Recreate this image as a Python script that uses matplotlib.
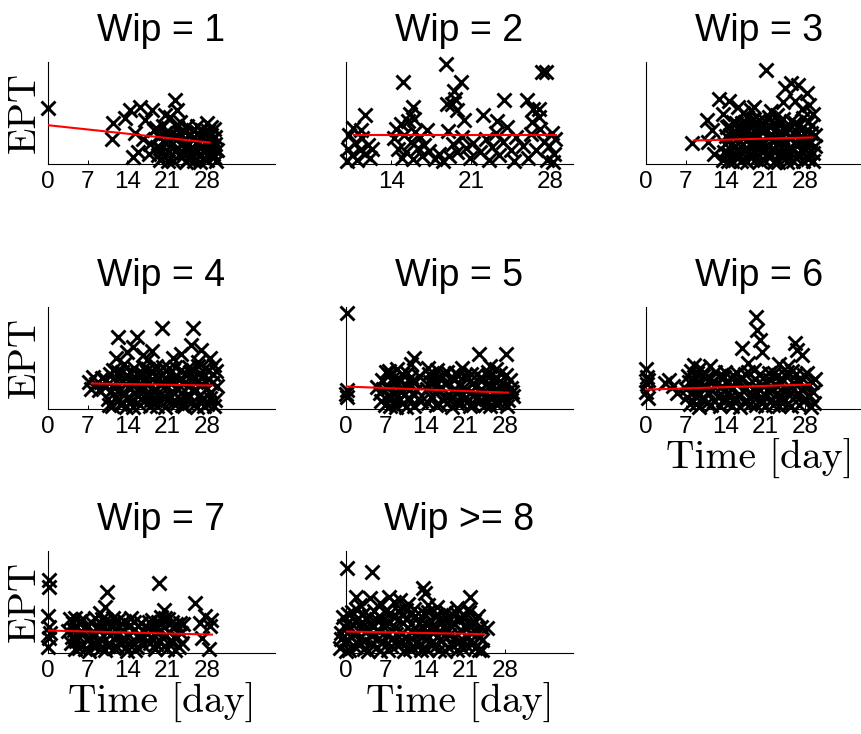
import matplotlib
matplotlib.use("Agg")
import matplotlib.pyplot as plt


TITLES = [
    "Wip = 1", "Wip = 2", "Wip = 3", "Wip = 4",
    "Wip = 5", "Wip = 6", "Wip = 7", "Wip >= 8",
]

# (day, EPT) observations per WIP level
W1_POINTS = [
    (0.0, 5.5),
    (11.2, 2.4), (11.5, 4.0), (13.6, 4.5), (14.5, 5.3), (15.0, 0.7), (15.3, 3.0),
    (16.2, 5.6), (17.1, 4.3), (16.8, 2.4), (18.3, 5.3), (18.6, 3.3), (19.2, 1.7),
    (19.8, 0.4), (20.3, 3.7), (20.9, 2.4), (21.5, 4.6), (22.4, 6.3), (22.7, 5.3),
    (23.3, 3.0), (23.6, 0.7), (24.2, 1.7), (24.5, 3.7), (25.3, 2.4), (26.2, 3.7),
    (26.8, 1.0), (27.4, 3.0), (28.0, 4.0), (28.3, 1.7), (28.9, 2.4), (29.2, 0.7),
    (19.5, 2.6), (20.0, 1.5), (20.5, 0.8), (21.0, 3.1), (21.3, 1.2), (21.8, 2.0),
    (22.1, 0.3), (22.5, 2.8), (22.9, 1.6), (23.2, 4.1), (23.8, 2.2), (24.0, 1.1),
    (24.7, 0.5), (25.0, 2.9), (25.5, 1.4), (25.8, 0.3), (26.0, 2.1), (26.5, 3.0),
    (26.9, 2.5), (27.2, 1.8), (27.6, 0.5), (27.9, 2.2), (28.2, 3.2), (28.5, 1.2),
    (28.7, 2.8), (29.0, 1.6), (29.3, 3.4), (29.5, 2.0), (29.6, 0.3), (20.6, 4.8),
    (19.0, 3.5), (17.8, 1.0), (18.0, 2.0), (15.8, 1.2),
    (19.3, 0.9), (20.2, 2.3), (20.7, 3.0), (21.2, 0.3), (21.6, 2.8), (22.3, 1.3),
    (22.8, 3.6), (23.1, 0.9), (23.5, 1.9), (24.1, 3.1), (24.4, 0.2), (24.9, 2.0),
    (25.2, 0.9), (25.6, 3.3), (26.1, 1.1), (26.4, 2.3), (26.7, 0.2), (27.1, 3.3),
    (27.5, 1.2), (27.8, 2.9), (28.1, 0.4), (28.4, 2.1), (28.8, 3.6), (29.1, 1.0),
    (29.4, 2.6), (29.7, 1.4),
]
W2_POINTS = [
    (10.1, 0.3), (10.2, 1.5), (10.3, 2.8), (10.5, 0.9), (10.8, 2.1), (11.0, 0.4),
    (11.2, 1.4), (11.4, 2.5), (11.7, 1.0), (11.9, 1.9), (12.1, 0.6), (12.3, 1.5),
    (11.7, 4.8), (10.6, 3.5), (11.3, 3.3),
    (14.2, 2.5), (14.4, 3.4), (14.6, 1.5), (14.8, 3.9), (15.0, 8.0), (15.1, 2.8),
    (15.3, 1.2), (15.5, 4.2), (15.7, 2.2), (15.9, 5.6), (15.9, 0.5), (16.1, 3.1),
    (16.3, 1.6), (16.5, 2.6), (16.7, 0.8), (16.9, 1.9), (17.1, 3.3), (17.3, 1.3),
    (15.6, 4.9), (14.9, 0.6), (16.0, 4.4),
    (17.8, 0.5), (18.2, 1.0), (18.5, 0.3),
    (18.8, 9.8), (20.1, 8.0), (19.5, 7.2), (18.9, 5.9), (19.3, 5.9), (19.8, 5.3),
    (20.4, 4.3), (19.6, 6.4), (19.0, 3.2), (19.4, 2.0), (19.8, 1.2), (20.2, 2.6),
    (20.6, 1.6), (20.9, 0.6), (21.2, 2.1), (19.1, 0.8),
    (22.1, 4.8), (21.8, 1.2), (22.3, 2.4), (22.6, 0.4), (22.9, 1.7), (23.2, 3.0),
    (23.5, 0.9), (23.8, 2.2), (23.9, 6.3), (24.2, 3.6), (24.5, 1.4), (24.8, 0.3),
    (25.0, 2.6), (23.3, 4.2),
    (25.9, 6.3), (26.4, 4.1), (25.6, 1.8), (26.0, 0.6), (26.3, 2.9), (26.7, 1.4),
    (27.0, 5.4), (27.3, 9.0), (27.6, 9.0), (27.1, 3.4), (27.4, 2.2), (27.7, 0.4),
    (27.9, 1.8), (28.1, 3.0), (28.3, 1.0), (28.4, 2.4), (27.0, 4.6), (26.5, 5.4),
    (28.2, 0.2),
]
W3_POINTS = [
    (8.1, 2.1), (10.8, 4.3), (11.7, 3.3), (12.9, 6.4), (14.7, 6.2), (16.2, 5.6),
    (13.5, 4.9), (21.1, 9.2), (22.0, 5.2), (24.4, 7.4), (25.6, 7.9), (26.8, 7.7),
    (28.4, 7.0), (24.1, 6.1), (26.2, 6.2), (19.0, 5.6), (17.8, 4.6), (20.2, 3.6),
    (11.0, 2.2), (12.0, 1.0),
    (13.6, 0.4), (13.9, 2.0), (14.2, 3.6), (14.5, 1.1), (14.8, 2.8), (15.1, 0.3),
    (15.4, 4.1), (15.7, 1.8), (16.0, 3.0), (16.3, 0.7), (16.6, 2.3), (16.9, 4.0),
    (17.2, 1.4), (17.5, 3.3), (17.8, 0.2), (18.1, 2.5), (18.4, 1.0), (18.7, 3.8),
    (19.0, 1.9), (19.3, 0.5), (19.6, 2.9), (19.9, 4.3), (20.2, 1.3), (20.5, 2.2),
    (20.8, 0.4), (21.1, 3.4), (21.4, 1.7), (21.7, 2.7), (22.0, 0.8), (22.3, 3.9),
    (22.6, 1.5), (22.9, 2.4), (23.2, 0.2), (23.5, 3.1), (23.8, 1.2), (24.1, 4.4),
    (24.4, 2.0), (24.7, 0.6), (25.0, 3.5), (25.3, 1.6), (25.6, 2.6), (25.9, 0.3),
    (26.2, 4.0), (26.5, 1.9), (26.8, 3.0), (27.1, 0.9), (27.4, 2.3), (27.7, 4.5),
    (28.0, 1.4), (28.3, 3.2), (28.6, 0.5), (28.9, 2.1), (29.2, 3.8), (29.5, 1.1),
    (29.7, 2.8), (17.0, 5.0), (23.0, 4.8), (27.5, 5.4), (28.8, 5.8), (29.4, 4.9),
    (21.6, 4.6), (18.5, 5.3),
    (13.8, 1.2), (14.1, 2.7), (14.4, 0.3), (14.7, 3.7), (15.0, 1.9), (15.3, 2.9),
    (15.6, 0.8), (15.9, 4.0), (16.2, 1.5), (16.5, 3.2), (16.8, 0.3), (17.1, 2.5),
    (17.4, 4.1), (17.7, 1.6), (18.0, 3.3), (18.3, 0.7), (18.6, 2.0), (18.9, 4.4),
    (19.2, 1.2), (19.5, 3.6), (19.8, 2.0), (20.1, 0.3), (20.4, 3.1), (20.7, 1.6),
    (21.0, 4.2), (21.3, 0.9), (21.6, 2.5), (21.9, 3.6), (22.2, 1.4), (22.5, 0.2),
    (22.8, 3.3), (23.1, 2.0), (23.4, 4.1), (23.7, 0.8), (24.0, 2.6), (24.3, 3.3),
    (24.6, 1.3), (24.9, 0.2), (25.2, 2.6), (25.5, 4.2), (25.8, 1.6), (26.1, 3.0),
    (26.4, 0.6), (26.7, 2.4), (27.0, 3.8), (27.3, 1.4), (27.6, 0.3), (27.9, 3.0),
    (28.2, 2.2), (28.5, 4.1), (28.8, 1.1), (29.1, 3.0), (29.4, 0.3), (29.7, 1.8),
]
W4_POINTS = [
    (12.3, 7.1), (15.6, 7.1), (20.1, 7.9), (25.5, 7.9), (12.0, 5.0), (15.0, 6.1),
    (16.8, 5.3), (25.2, 6.3), (27.0, 5.8), (28.5, 5.0), (23.5, 5.4), (18.3, 5.7),
    (14.0, 5.6), (17.5, 4.8), (22.0, 5.0), (26.5, 4.6), (29.2, 4.3), (13.4, 4.4),
    (7.2, 2.6), (7.6, 2.0), (8.0, 3.1), (8.5, 2.4), (9.0, 1.9), (9.5, 3.0),
    (10.0, 2.2), (10.5, 1.0), (10.9, 3.4), (11.3, 0.3), (11.6, 2.1), (12.0, 1.2),
    (12.3, 3.6), (12.7, 0.5), (13.0, 2.7), (13.4, 1.6), (13.7, 0.2), (14.1, 3.2),
    (14.4, 2.0), (14.8, 0.9), (15.1, 4.0), (15.5, 2.6), (15.8, 1.3), (16.2, 0.4),
    (16.5, 3.5), (16.9, 2.2), (17.2, 1.0), (17.6, 3.9), (17.9, 0.3), (18.3, 2.9),
    (18.6, 1.7), (19.0, 4.2), (19.3, 0.8), (19.7, 2.4), (20.0, 3.3), (20.4, 1.3),
    (20.7, 0.2), (21.1, 2.8), (21.4, 4.0), (21.8, 1.8), (22.1, 0.6), (22.5, 3.2),
    (22.8, 2.1), (23.2, 1.0), (23.5, 3.8), (23.9, 0.3), (24.2, 2.6), (24.6, 1.5),
    (24.9, 4.1), (25.3, 0.7), (25.6, 3.0), (26.0, 1.9), (26.3, 0.2), (26.7, 3.5),
    (27.0, 2.4), (27.4, 1.1), (27.7, 4.0), (28.1, 0.5), (28.4, 2.9), (28.8, 1.7),
    (29.1, 3.4), (29.5, 0.9), (29.8, 2.3),
    (10.2, 2.8), (10.7, 0.4), (11.1, 1.8), (11.5, 3.8), (11.9, 2.6), (12.3, 0.8),
    (12.6, 1.9), (13.0, 3.6), (13.3, 0.6), (13.7, 2.4), (14.0, 1.1), (14.4, 3.6),
    (14.7, 2.4), (15.0, 0.2), (15.4, 1.6), (15.7, 3.4), (16.0, 2.1), (16.4, 1.0),
    (16.7, 2.8), (17.0, 4.0), (17.4, 1.6), (17.8, 2.5), (18.1, 0.9), (18.5, 3.6),
    (18.8, 2.0), (19.2, 0.3), (19.5, 3.0), (19.9, 1.5), (20.2, 4.1), (20.6, 2.3),
    (20.9, 0.9), (21.3, 3.4), (21.6, 1.2), (22.0, 2.6), (22.3, 4.1), (22.7, 0.6),
    (23.0, 2.8), (23.4, 1.6), (23.7, 0.4), (24.1, 3.4), (24.4, 1.0), (24.8, 2.3),
    (25.1, 3.6), (25.5, 1.8), (25.8, 0.4), (26.1, 2.6), (26.5, 4.2), (26.8, 1.4),
    (27.2, 3.0), (27.5, 0.3), (27.9, 2.0), (28.2, 3.8), (28.6, 1.1), (28.9, 2.5),
    (29.3, 0.3), (29.6, 3.7),
]
W5_POINTS = [
    (0.1, 9.4), (0.0, 1.5), (0.2, 1.9), (0.1, 1.2), (5.5, 2.2),
    (11.9, 5.0), (23.4, 5.4), (28.1, 5.4), (25.4, 4.2), (11.5, 4.4), (9.0, 3.9),
    (16.0, 3.8), (20.5, 4.0), (26.5, 3.9), (7.5, 3.7), (14.5, 4.0),
    (6.0, 1.6), (6.4, 2.8), (6.8, 0.4), (7.2, 2.1), (7.6, 3.3), (8.0, 1.2),
    (8.4, 2.5), (8.8, 0.2), (9.2, 3.0), (9.6, 1.7), (10.0, 0.6), (10.4, 2.3),
    (10.8, 3.5), (11.2, 1.0), (11.6, 2.7), (12.0, 0.3), (12.4, 1.9), (12.8, 3.2),
    (13.2, 0.8), (14.2, 2.0), (14.6, 3.4), (15.0, 1.2), (15.4, 2.6), (15.8, 0.4),
    (16.2, 1.8), (16.6, 3.1), (17.0, 0.9), (17.4, 2.4), (17.8, 3.6), (18.2, 1.4),
    (18.6, 0.2), (19.0, 2.8), (19.4, 1.7), (19.8, 3.3), (20.2, 0.6), (20.6, 2.1),
    (21.0, 1.1), (21.4, 3.0), (21.8, 0.3), (22.2, 2.4), (22.6, 1.5), (23.0, 3.4),
    (23.4, 0.7), (23.8, 2.0), (24.2, 2.9), (24.6, 1.0), (25.0, 3.6), (25.4, 0.3),
    (25.8, 2.2), (26.2, 1.4), (26.6, 3.0), (27.0, 0.6), (27.4, 2.5), (27.8, 1.7),
    (28.2, 3.3), (28.6, 0.9), (29.0, 2.1), (29.4, 1.3),
    (6.2, 0.8), (6.6, 2.0), (7.0, 3.6), (7.4, 1.3), (7.8, 0.3), (8.2, 3.0),
    (8.6, 1.7), (9.0, 2.4), (9.4, 0.9), (9.8, 3.4), (10.2, 1.4), (10.6, 0.2),
    (11.0, 2.2), (11.4, 3.1), (11.8, 1.5), (12.2, 2.6), (12.6, 1.0), (14.4, 0.6),
    (14.8, 2.6), (15.2, 3.1), (15.6, 1.6), (16.0, 2.4), (16.4, 0.5), (16.8, 2.2),
    (17.2, 3.5), (17.6, 1.2), (18.0, 2.6), (18.4, 0.9), (18.8, 1.9), (19.2, 3.5),
    (19.6, 0.6), (20.0, 2.4), (20.4, 1.4), (20.8, 3.2), (21.2, 2.0), (21.6, 0.9),
    (22.0, 3.4), (22.4, 0.4), (22.8, 2.2), (23.2, 1.3), (23.6, 3.0), (24.0, 1.6),
    (24.4, 0.4), (24.8, 2.4), (25.2, 3.1), (25.6, 1.2), (26.0, 2.8), (26.4, 0.5),
    (26.8, 1.9), (27.2, 3.5), (27.6, 1.0), (28.0, 2.2), (28.4, 0.3), (28.8, 2.8),
    (29.2, 1.7),
]
W6_POINTS = [
    (0.0, 3.9), (0.1, 3.1), (0.2, 2.4), (0.0, 1.7), (0.3, 1.1), (0.4, 2.8),
    (3.3, 2.5), (4.0, 2.8), (4.8, 2.3), (5.5, 1.6),
    (19.3, 9.0), (19.6, 7.7), (16.9, 6.0), (20.5, 5.6), (26.2, 6.5), (27.4, 5.3),
    (23.5, 4.4), (18.0, 4.5), (11.3, 4.2), (8.5, 4.3), (9.5, 4.0), (26.6, 5.8),
    (20.0, 6.8), (25.0, 4.2),
    (7.0, 2.0), (7.4, 3.2), (7.8, 0.5), (8.2, 2.6), (8.6, 1.3), (9.0, 3.5),
    (9.4, 0.2), (9.8, 2.2), (10.2, 1.0), (10.6, 3.0), (11.0, 1.7), (11.4, 0.4),
    (11.8, 2.7), (12.2, 3.6), (12.6, 1.2), (13.0, 0.3), (13.4, 2.3), (13.8, 3.1),
    (14.2, 1.5), (14.6, 0.6), (15.0, 2.0), (15.4, 3.3), (15.8, 1.0), (16.2, 2.6),
    (16.6, 0.2), (17.0, 1.8), (17.4, 3.4), (17.8, 0.8), (18.2, 2.4), (18.6, 1.3),
    (19.0, 3.8), (19.4, 0.4), (19.8, 2.1), (20.2, 1.0), (20.6, 3.0), (21.0, 0.3),
    (21.4, 1.9), (21.8, 2.8), (22.2, 0.9), (22.6, 3.5), (23.0, 1.6), (23.4, 0.3),
    (23.8, 2.5), (24.2, 1.1), (24.6, 3.2), (25.0, 0.5), (25.4, 2.2), (25.8, 3.7),
    (26.2, 1.3), (26.6, 2.7), (27.0, 0.4), (27.4, 1.9), (27.8, 3.3), (28.2, 1.0),
    (28.6, 2.4), (29.0, 0.2), (29.4, 1.7), (29.8, 2.9),
    (7.2, 1.2), (7.6, 2.6), (8.0, 3.7), (8.4, 1.8), (8.8, 0.5), (9.2, 2.6),
    (9.6, 1.5), (10.0, 3.2), (10.4, 2.3), (10.8, 0.6), (11.2, 2.9), (11.6, 1.9),
    (12.0, 0.8), (12.4, 2.4), (12.8, 3.2), (13.2, 1.5), (13.6, 0.9), (14.0, 3.6),
    (14.4, 2.5), (14.8, 1.2), (15.2, 0.3), (15.6, 2.6), (16.0, 3.5), (16.4, 1.5),
    (16.8, 2.9), (17.2, 0.7), (17.6, 2.1), (18.0, 3.6), (18.4, 0.5), (18.8, 2.0),
    (19.2, 2.9), (19.6, 1.6), (20.0, 3.4), (20.4, 0.6), (20.8, 2.3), (21.2, 1.3),
    (21.6, 3.5), (22.0, 1.9), (22.4, 0.4), (22.8, 2.4), (23.2, 3.3), (23.6, 1.2),
    (24.0, 0.6), (24.4, 2.0), (24.8, 3.6), (25.2, 1.4), (25.6, 0.3), (26.0, 2.5),
    (26.4, 3.4), (26.8, 1.6), (27.2, 2.6), (27.6, 0.8), (28.0, 2.2), (28.4, 3.5),
    (28.8, 1.4), (29.2, 2.6), (29.6, 0.6),
]
W7_POINTS = [
    (0.1, 7.2), (0.2, 6.5), (0.0, 3.6), (0.1, 2.5), (0.2, 1.5), (0.0, 0.6), (0.3, 2.0),
    (10.4, 6.0), (19.6, 6.9), (20.5, 4.2), (25.9, 4.9), (27.7, 3.6), (28.6, 2.6),
    (28.3, 0.4), (9.2, 3.9), (26.8, 2.9), (27.2, 1.5), (28.8, 3.2), (10.0, 4.5),
    (20.0, 3.5), (4.8, 3.4),
    (3.6, 2.2), (4.0, 1.0), (4.4, 2.9), (4.8, 0.4), (5.2, 1.8), (5.6, 3.1),
    (6.0, 0.9), (6.4, 2.4), (6.8, 1.3), (7.2, 0.2), (7.6, 3.0), (8.0, 1.9),
    (8.4, 0.7), (8.8, 2.6), (9.2, 1.4), (9.6, 3.3), (10.0, 0.3), (10.4, 2.1),
    (10.8, 1.0), (11.2, 2.8), (11.6, 0.5), (12.0, 1.7), (12.4, 3.2), (12.8, 0.9),
    (13.2, 2.3), (13.6, 1.4), (14.0, 0.2), (14.4, 2.7), (14.8, 1.1), (15.2, 3.0),
    (15.6, 0.6), (16.0, 1.9), (17.6, 2.4), (18.0, 1.0), (18.4, 3.2), (18.8, 0.4),
    (19.2, 2.0), (19.6, 1.3), (20.0, 2.8), (20.4, 0.7), (20.8, 1.8), (21.2, 3.3),
    (21.6, 1.1), (22.0, 2.4), (22.4, 0.3), (22.8, 1.6), (23.2, 2.9), (23.6, 1.0),
    (16.4, 2.9), (16.8, 0.8),
    (3.8, 3.3), (4.2, 1.6), (4.6, 2.3), (5.0, 1.2), (5.4, 0.5), (5.8, 2.2),
    (6.2, 3.3), (6.6, 0.4), (7.0, 2.6), (7.4, 1.5), (7.8, 0.8), (8.2, 3.4),
    (8.6, 1.2), (9.0, 2.2), (9.4, 0.5), (9.8, 2.6), (10.2, 3.2), (10.6, 0.7),
    (11.0, 1.8), (11.4, 3.4), (11.8, 2.3), (12.2, 0.6), (12.6, 2.5), (13.0, 1.4),
    (13.4, 3.1), (13.8, 0.6), (14.2, 1.8), (14.6, 3.4), (15.0, 2.2), (15.4, 0.3),
    (15.8, 2.6), (16.2, 1.4), (17.4, 1.9), (17.8, 3.0), (18.2, 1.6), (18.6, 2.4),
    (19.0, 0.9), (19.4, 3.0), (19.8, 2.2), (20.2, 1.5), (20.6, 3.4), (21.0, 0.4),
    (21.4, 2.1), (21.8, 3.0), (22.2, 1.6), (22.6, 2.8), (23.0, 0.6), (23.4, 2.0),
    (23.8, 2.8),
]
W8_POINTS = [
    (0.2, 8.3), (4.5, 7.9), (13.6, 6.4), (13.9, 5.9), (21.9, 5.5), (24.9, 2.4),
    (1.8, 5.5), (4.3, 5.4), (7.5, 5.5), (9.5, 5.2), (11.0, 4.8), (8.5, 5.0),
    (2.5, 4.7), (6.0, 4.9), (16.0, 4.5), (19.5, 4.4), (21.5, 4.3), (14.5, 4.7),
    (-1.0, 0.5), (-0.8, 2.0), (-0.6, 3.5), (-0.2, 1.2), (0.2, 2.8), (0.6, 0.3),
    (1.0, 4.0), (1.4, 1.8), (1.8, 3.2), (2.2, 0.8), (2.6, 2.4), (3.0, 3.8),
    (3.4, 1.3), (3.8, 0.2), (4.2, 2.9), (4.6, 1.7), (5.0, 4.1), (5.4, 0.6),
    (5.8, 2.2), (6.2, 3.4), (6.6, 1.1), (7.0, 2.7), (7.4, 0.3), (7.8, 3.9),
    (8.2, 1.5), (8.6, 2.5), (9.0, 0.8), (9.4, 3.3), (9.8, 2.0), (10.2, 0.2),
    (10.6, 4.2), (11.0, 1.2), (11.4, 2.8), (11.8, 0.5), (12.2, 3.6), (12.6, 1.9),
    (13.0, 0.9), (13.4, 2.6), (13.8, 3.9), (14.2, 0.3), (14.6, 1.6), (15.0, 3.1),
    (15.4, 2.2), (15.8, 0.7), (16.2, 3.7), (16.6, 1.3), (17.0, 2.5), (17.4, 0.2),
    (17.8, 3.3), (18.2, 1.8), (18.6, 0.8), (19.0, 2.9), (19.4, 3.9), (19.8, 1.1),
    (20.2, 2.2), (20.6, 0.4), (21.0, 3.5), (21.4, 1.6), (21.8, 2.7), (22.2, 0.9),
    (22.6, 3.1), (23.0, 1.9), (23.4, 0.3), (23.8, 2.5), (24.0, 1.3),
    (-0.9, 1.4), (-0.4, 2.6), (0.0, 0.2), (0.4, 3.8), (0.8, 1.6), (1.2, 2.7),
    (1.6, 0.6), (2.0, 4.2), (2.4, 1.5), (2.8, 3.0), (3.2, 0.4), (3.6, 2.2),
    (4.0, 3.6), (4.4, 0.9), (4.8, 2.5), (5.2, 3.3), (5.6, 1.4), (6.0, 0.2),
    (6.4, 2.7), (6.8, 4.0), (7.2, 1.8), (7.6, 2.9), (8.0, 0.7), (8.4, 3.5),
    (8.8, 1.9), (9.2, 4.1), (9.6, 1.0), (10.0, 2.9), (10.4, 1.6), (10.8, 3.4),
    (11.2, 0.4), (11.6, 2.1), (12.0, 4.3), (12.4, 1.0), (12.8, 2.9), (13.2, 0.3),
    (13.6, 1.7), (14.0, 2.8), (14.4, 4.0), (14.8, 0.9), (15.2, 2.6), (15.6, 3.6),
    (16.0, 1.6), (16.4, 0.3), (16.8, 3.1), (17.2, 1.8), (17.6, 4.0), (18.0, 0.6),
    (18.4, 2.7), (18.8, 3.7), (19.2, 1.6), (19.6, 0.3), (20.0, 3.3), (20.4, 1.4),
    (20.8, 2.6), (21.2, 0.8), (21.6, 4.0), (22.0, 2.0), (22.4, 2.8), (22.8, 0.5),
    (23.2, 3.6), (23.6, 1.6), (24.0, 0.3),
]

# linear trend per panel: (day, EPT) at both ends
W1_FIT = [(0.0, 3.8), (28.5, 2.1)]
W2_FIT = [(10.7, 2.8), (28.5, 2.8)]
W3_FIT = [(8.4, 2.3), (29.3, 2.6)]
W4_FIT = [(7.7, 2.5), (28.9, 2.3)]
W5_FIT = [(0.0, 2.2), (28.6, 1.6)]
W6_FIT = [(0.0, 1.9), (28.9, 2.4)]
W7_FIT = [(0.0, 2.2), (28.9, 1.8)]
W8_FIT = [(0.0, 2.1), (24.3, 1.85)]

POINTS = [W1_POINTS, W2_POINTS, W3_POINTS, W4_POINTS,
          W5_POINTS, W6_POINTS, W7_POINTS, W8_POINTS]
FITS = [W1_FIT, W2_FIT, W3_FIT, W4_FIT, W5_FIT, W6_FIT, W7_FIT, W8_FIT]

DAY_TICKS = [0, 7, 14, 21, 28]

# grid geometry (figure fractions)
COL_LEFT = [0.0557, 0.4019, 0.7503]
ROW_BOTTOM = [0.7766, 0.4428, 0.1104]
AX_W = 0.2637
AX_H = 0.139

SANS = "Liberation Sans"
SERIF = "cmr10"


def draw_panel(ax, idx):
    points = POINTS[idx]
    fit = FITS[idx]

    ax.plot(
        [p[0] for p in points],
        [p[1] for p in points],
        linestyle="none",
        marker="x",
        color="black",
        markersize=10.5,
        markeredgewidth=2.1,
        clip_on=False,
        zorder=3,
    )
    ax.plot(
        [f[0] for f in fit],
        [f[1] for f in fit],
        color="red",
        linewidth=1.5,
        zorder=4,
    )

    if idx == 1:
        ax.set_xlim(10, 30)
        ax.set_xticks([14, 21, 28])
    else:
        ax.set_xlim(0, 40)
        ax.set_xticks(DAY_TICKS)
    ax.set_ylim(0, 10)
    ax.set_yticks([])

    for side in ("top", "right"):
        ax.spines[side].set_visible(False)
    for side in ("left", "bottom"):
        ax.spines[side].set_linewidth(0.8)

    ax.tick_params(axis="x", direction="in", length=3, width=0.7, pad=5)
    for lbl in ax.get_xticklabels():
        lbl.set_fontfamily(SANS)
        lbl.set_fontsize(17.5)

    ax.set_title(TITLES[idx], fontfamily=SANS, fontsize=27, pad=15)

    if idx % 3 == 0:
        ax.set_ylabel("EPT", fontfamily=SERIF, fontsize=28, labelpad=4)
    if idx >= 5:
        ax.set_xlabel("Time [day]", fontfamily=SERIF, fontsize=28.5, labelpad=1)


def main() -> None:
    fig = plt.figure(figsize=(8.61, 7.34), dpi=100)

    for idx in range(len(TITLES)):
        row, col = divmod(idx, 3)
        ax = fig.add_axes([COL_LEFT[col], ROW_BOTTOM[row], AX_W, AX_H])
        draw_panel(ax, idx)

    fig.savefig("out.png", dpi=100)
    plt.close(fig)


if __name__ == "__main__":
    main()
